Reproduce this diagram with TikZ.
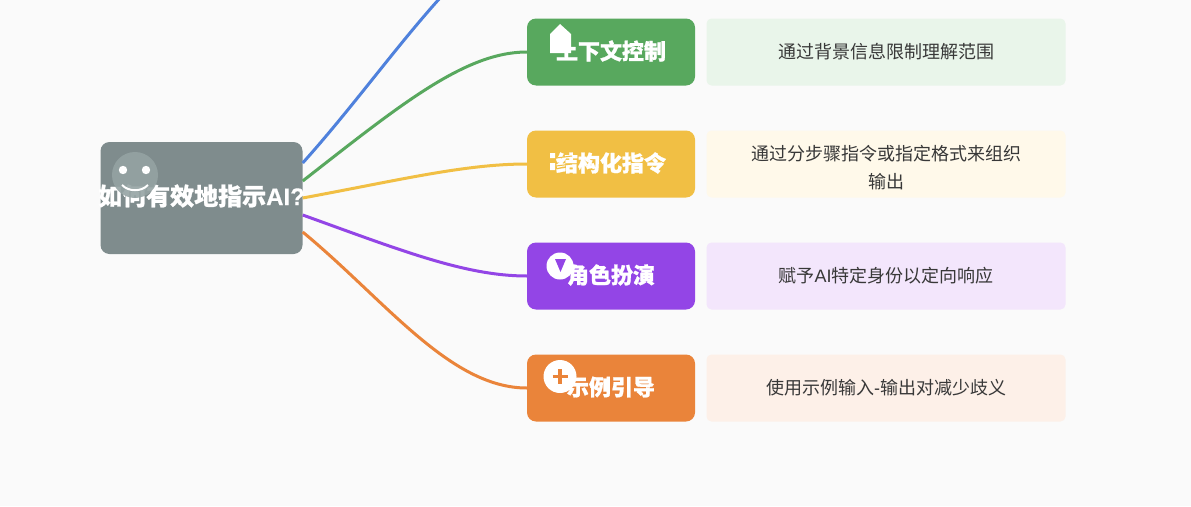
\documentclass[tikz,border=0pt]{standalone}
\usepackage{fontspec}
\setmainfont[BoldFeatures={FakeBold=1}]{Noto Sans CJK SC}
\newfontfamily\latinfont[BoldFeatures={FakeBold=0.5}]{Liberation Sans}
\definecolor{bgpage}{HTML}{FAFAFA}
\definecolor{rootgray}{HTML}{7F8C8D}
\definecolor{smilegray}{HTML}{95A3A3}
\definecolor{linkblue}{HTML}{4F81DC}
\definecolor{mapgreen}{HTML}{58A85E}
\definecolor{mapyellow}{HTML}{F1BF44}
\definecolor{mappurple}{HTML}{9345E6}
\definecolor{maporange}{HTML}{EA843A}
\definecolor{softgreen}{HTML}{E9F5EA}
\definecolor{softyellow}{HTML}{FFF9EA}
\definecolor{softpurple}{HTML}{F3E6FC}
\definecolor{softorange}{HTML}{FDF0E8}
\tikzset{
  rootbox/.style={draw=none, fill=rootgray, rounded corners=9pt, minimum width=202pt, minimum height=112pt, inner sep=0pt},
  titlebox/.style={draw=none, rounded corners=9pt, minimum width=168pt, minimum height=67pt, inner sep=0pt},
  notebox/.style={draw=none, rounded corners=5pt, minimum width=359pt, minimum height=67pt, inner sep=0pt, align=center, text=black!78, font=\fontsize{18pt}{28pt}\selectfont},
  titletext/.style={text=white, font=\fontsize{22pt}{26pt}\selectfont\bfseries},
  link/.style={line width=3pt}
}
\begin{document}
\begin{tikzpicture}[x=1pt, y=-1pt]
    \useasboundingbox (0,0) rectangle (1191,506);
    \fill[bgpage] (0,0) rectangle (1191,506);

    % Ribbons from the root
    \coordinate (topend) at (440,-2);
    \node[rootbox] (root) at (201.5,198) {};
    \node[titlebox, fill=mapgreen] (context) at (611,52) {};
    \node[titlebox, fill=mapyellow] (format) at (611,164) {};
    \node[titlebox, fill=mappurple] (role) at (611,276) {};
    \node[titlebox, fill=maporange] (sample) at (611,388) {};
    \node[notebox, fill=softgreen] (contextnote) at (886,52) {通过背景信息限制理解范围};
    \node[notebox, fill=softyellow] (formatnote) at (886,164) {\rule{0pt}{22pt}通过分步骤指令或指定格式来组织\\输出};
    \node[notebox, fill=softpurple] (rolenote) at (886,276) {赋予{\latinfont AI}特定身份以定向响应};
    \node[notebox, fill=softorange] (samplenote) at (886,388) {使用示例输入{\latinfont -}输出对减少歧义};

    \draw[link, linkblue] (root.east |- 0,163) .. controls (352,108) and (395,48) .. (topend);
    \draw[link, mapgreen] (root.east |- 0,181) .. controls (400,105) and (465,52) .. (context.west);
    \draw[link, mapyellow] (root.east |- 0,198) .. controls (400,180) and (465,164) .. (format.west);
    \draw[link, mappurple] (root.east |- 0,215) .. controls (400,250) and (465,276) .. (role.west);
    \draw[link, maporange] (root.east |- 0,232) .. controls (385,300) and (450,388) .. (sample.west);

    % Titles
    \node[titletext] (roottext) at (201.5,196) {\fontsize{24pt}{28pt}\selectfont 如何有效地指示{\latinfont\bfseries AI?}};
    \node[titletext] (contexttext) at (611,51) {上下文控制};
    \node[titletext] (formattext) at (611,163) {结构化指令};
    \node[titletext] (roletext) at (611,275) {角色扮演};
    \node[titletext] (sampletext) at (611,387) {示例引导};

    % Icons over the titles
    \fill[smilegray, opacity=0.9] (135,175) circle (23pt);
    \fill[white] (123,170) circle (4.2pt) (146,170) circle (4.2pt);
    \draw[white, line width=2pt] (122,185) .. controls (129,192) and (141,192) .. (148,185);
    \fill[white] (550,51) -- (550,34) -- (560,24) -- (571,34) -- (571,53) -- (550,53) -- cycle;
    \draw[mapyellow, line width=1pt] (556,158) -- (572,156) (556,166) -- (572,164);
    \fill[white] (550,153) rectangle (555,158) (550,163) rectangle (555,170);
    \fill[white] (560,266) circle (13.5pt);
    \fill[mappurple] (555,259) -- (566,259) -- (560.5,272) -- cycle;
    \fill[white] (560,376.5) circle (16.5pt);
    \draw[maporange, line width=3.5pt] (560,369) -- (560,384) (552.5,376.5) -- (567.5,376.5);
\end{tikzpicture}
\end{document}
